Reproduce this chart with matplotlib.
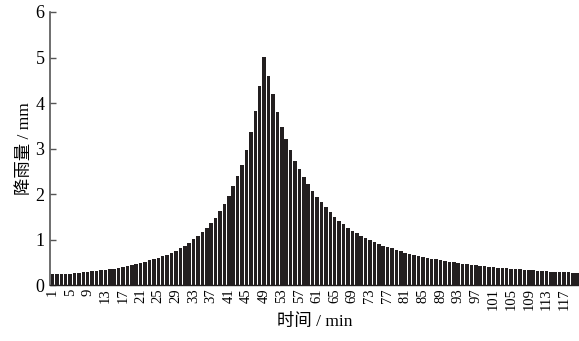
import numpy as np
import matplotlib.pyplot as plt

# rainfall per minute (mm)
minutes = np.arange(1, 121)
rain = [
    0.24, 0.245, 0.25, 0.255, 0.26, 0.27, 0.28, 0.29, 0.30, 0.31,
    0.32, 0.33, 0.34, 0.35, 0.37, 0.38, 0.40, 0.42, 0.44, 0.46,
    0.49, 0.52, 0.55, 0.58, 0.61, 0.64, 0.67, 0.71, 0.76, 0.81,
    0.87, 0.94, 1.01, 1.08, 1.17, 1.27, 1.38, 1.49, 1.63, 1.78,
    1.96, 2.18, 2.40, 2.65, 2.98, 3.36, 3.82, 4.37, 5.02, 4.59,
    4.19, 3.80, 3.48, 3.21, 2.96, 2.73, 2.55, 2.37, 2.23, 2.08,
    1.95, 1.82, 1.71, 1.61, 1.51, 1.42, 1.34, 1.27, 1.20, 1.14,
    1.09, 1.03, 0.99, 0.95, 0.91, 0.87, 0.84, 0.81, 0.78, 0.75,
    0.72, 0.70, 0.67, 0.65, 0.63, 0.61, 0.59, 0.57, 0.55, 0.54,
    0.52, 0.51, 0.49, 0.48, 0.47, 0.45, 0.44, 0.43, 0.42, 0.41,
    0.40, 0.39, 0.38, 0.375, 0.37, 0.36, 0.35, 0.345, 0.34, 0.33,
    0.325, 0.32, 0.31, 0.305, 0.30, 0.295, 0.29, 0.285, 0.28, 0.275,
]
xticks = list(range(1, 120, 4))

serif = ['Liberation Serif', 'Noto Sans CJK SC']

fig = plt.figure(figsize=(5.79, 3.41), dpi=100)
ax = fig.add_axes([0.0864, 0.163, 0.914, 0.802])

ax.bar(minutes, rain, width=0.8, color='#231f20', edgecolor='none')

ax.set_xlim(0.45, 120.45)
ax.set_ylim(0, 6)
ax.set_yticks(range(0, 7))
ax.set_xticks(xticks)
ax.set_xticklabels([str(t) for t in xticks], rotation=90, family=serif, fontsize=10.5)
for lab in ax.get_yticklabels():
    lab.set_family(serif)
    lab.set_fontsize(13)

ax.tick_params(axis='y', direction='in', length=4, width=1, color='#555555', pad=4)
ax.tick_params(axis='x', length=0, pad=2)

for s in ['top', 'right']:
    ax.spines[s].set_visible(False)
ax.spines['left'].set_color('#555555')
ax.spines['left'].set_linewidth(1.2)
ax.spines['bottom'].set_color('#231f20')
ax.spines['bottom'].set_linewidth(1.0)

ax.set_xlabel('时间 / min', family=serif, fontsize=12.5, labelpad=3)
ax.set_ylabel('降雨量 / mm', family=serif, fontsize=12.5, labelpad=2)

fig.savefig('out.png', dpi=100)
